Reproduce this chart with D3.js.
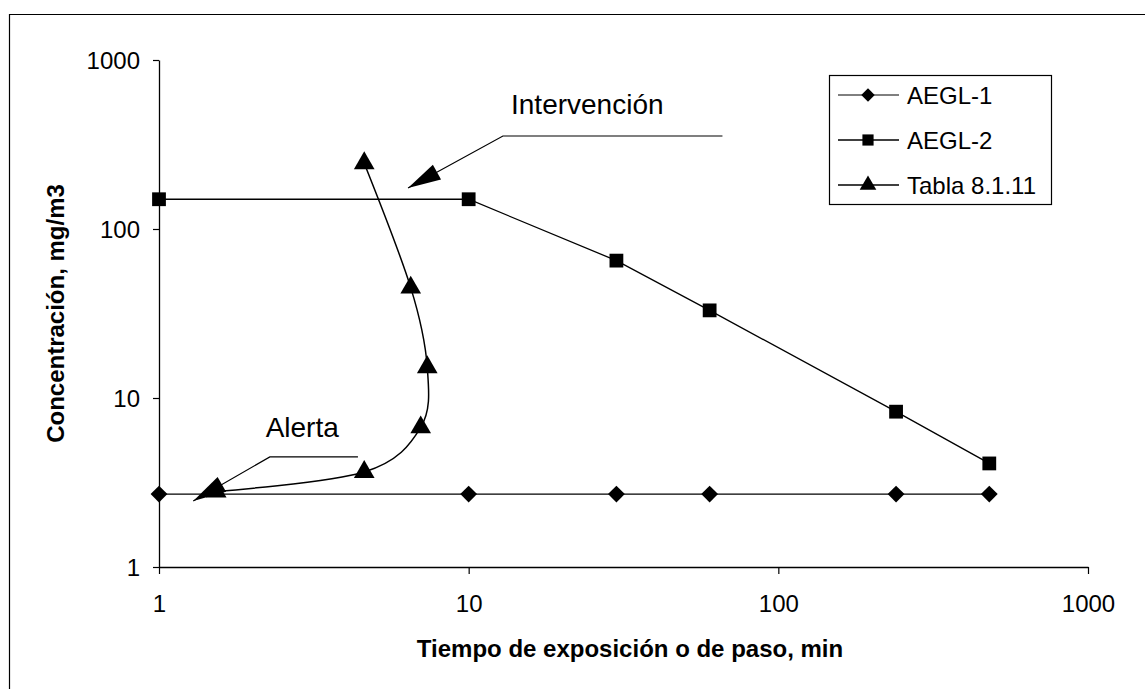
<!DOCTYPE html>
<html>
<head>
<meta charset="utf-8">
<script src="https://cdn.jsdelivr.net/npm/d3@7"></script>
<style>
  html, body { margin: 0; padding: 0; background: #fff; }
  svg { display: block; }
  text { font-family: "Liberation Sans", Arial, sans-serif; fill: #000; }
</style>
</head>
<body>
<svg id="chart" width="1145" height="689"></svg>
<script>
// ---------- data ----------
const aegl1Times = [1, 10, 30, 60, 240, 480];
const aegl1Values = [2.7, 2.7, 2.7, 2.7, 2.7, 2.7];

const aegl2Times = [1, 10, 30, 60, 240, 480];
const aegl2Values = [150, 150, 65, 33, 8.3, 4.1];

const tablaTimes = [1.53, 4.6, 7.0, 7.35, 6.5, 4.6];
const tablaValues = [2.8, 3.65, 6.7, 15.2, 45, 245];

const seriesNames = ["AEGL-1", "AEGL-2", "Tabla 8.1.11"];
const xTickValues = [1, 10, 100, 1000];
const yTickValues = [1, 10, 100, 1000];
const xTitle = "Tiempo de exposición o de paso, min";
const yTitle = "Concentración, mg/m3";

// annotation callouts (data units): label, label anchor, shelf end, elbow, arrow tip
const annLabels = ["Intervención", "Alerta"];
const annLabelAt = [[13.7, 480], [2.21, 5.9]];
const annShelfEnd = [[66, 355], [4.39, 4.48]];
const annElbow = [[12.9, 355], [2.28, 4.48]];
const annTip = [[6.37, 175], [1.29, 2.46]];

// ---------- layout ----------
const svg = d3.select("#chart");
const X0 = 159, X1 = 1088, Y0 = 567, Y1 = 60;
const x = d3.scaleLog().domain([1, 1000]).range([X0, X1]);
const y = d3.scaleLog().domain([1, 1000]).range([Y0, Y1]);

// outer frame (partially visible in reference)
svg.append("path")
  .attr("d", "M9.5,700 L9.5,14.5 L1150,14.5")
  .attr("fill", "none").attr("stroke", "#000").attr("stroke-width", 1.2);

// axes
const xAxis = d3.axisBottom(x).tickValues(xTickValues).tickFormat(d3.format("d")).tickSizeInner(7).tickSizeOuter(0).tickPadding(21);
const yAxis = d3.axisLeft(y).tickValues(yTickValues).tickFormat(d3.format("d")).tickSizeInner(6).tickSizeOuter(0).tickPadding(13);

const gx = svg.append("g").attr("transform", `translate(0,${Y0})`).call(xAxis);
const gy = svg.append("g").attr("transform", `translate(${X0},0)`).call(yAxis);
[gx, gy].forEach(g => {
  g.select(".domain").attr("stroke", "#000").attr("stroke-width", 1.3);
  g.selectAll(".tick line").attr("stroke", "#000").attr("stroke-width", 1.2);
  g.selectAll(".tick text").style("font-family", "'Liberation Sans', Arial, sans-serif").style("font-size", "24px").attr("fill", "#000");
});
gy.selectAll(".tick text").attr("dy", "0.36em");

// axis titles
svg.append("text")
  .attr("x", 630).attr("y", 657)
  .attr("text-anchor", "middle")
  .style("font-size", "24px").style("font-weight", "bold")
  .text(xTitle);
svg.append("text")
  .attr("transform", `translate(64,${(Y0 + Y1) / 2}) rotate(-90)`)
  .attr("text-anchor", "middle")
  .style("font-size", "24px").style("font-weight", "bold")
  .text(yTitle);

// ---------- series ----------
const d1 = aegl1Times.map((t, i) => [t, aegl1Values[i]]);
const d2 = aegl2Times.map((t, i) => [t, aegl2Values[i]]);
const d3s = tablaTimes.map((t, i) => [t, tablaValues[i]]);

const lineStraight = d3.line().x(d => x(d[0])).y(d => y(d[1]));
const lineSmooth = d3.line().x(d => x(d[0])).y(d => y(d[1])).curve(d3.curveCardinal.tension(0));

svg.append("path").attr("d", lineStraight(d1)).attr("fill", "none").attr("stroke", "#000").attr("stroke-width", 1.1);
svg.append("path").attr("d", lineStraight(d2)).attr("fill", "none").attr("stroke", "#000").attr("stroke-width", 1.3);
svg.append("path").attr("d", lineSmooth(d3s)).attr("fill", "none").attr("stroke", "#000").attr("stroke-width", 1.5);

const diamond = d3.symbol().type(d3.symbolDiamond2).size(180);
const square = d3.symbol().type(d3.symbolSquare).size(190);
const triangle = d3.symbol().type(d3.symbolTriangle).size(185);

svg.append("g").selectAll("path").data(d1).join("path")
  .attr("d", diamond).attr("transform", d => `translate(${x(d[0])},${y(d[1])})`).attr("fill", "#000");
svg.append("g").selectAll("path").data(d2).join("path")
  .attr("d", square).attr("transform", d => `translate(${x(d[0])},${y(d[1])})`).attr("fill", "#000");
svg.append("g").selectAll("path").data(d3s).join("path")
  .attr("d", triangle).attr("transform", d => `translate(${x(d[0])},${y(d[1])})`).attr("fill", "#000");

// ---------- annotations ----------
function arrowHead(tx, ty, fx, fy, len, halfW) {
  const dx = tx - fx, dy = ty - fy, L = Math.hypot(dx, dy);
  const ux = dx / L, uy = dy / L;
  const bx = tx - ux * len, by = ty - uy * len;
  return `M${tx},${ty} L${bx - uy * halfW},${by + ux * halfW} L${bx + uy * halfW},${by - ux * halfW} Z`;
}
annLabels.forEach((lab, i) => {
  const e = [x(annElbow[i][0]), y(annElbow[i][1])];
  const s = [x(annShelfEnd[i][0]), y(annShelfEnd[i][1])];
  const t = [x(annTip[i][0]), y(annTip[i][1])];
  svg.append("path").attr("d", `M${s[0]},${s[1]} L${e[0]},${e[1]} L${t[0]},${t[1]}`)
    .attr("fill", "none").attr("stroke", "#000").attr("stroke-width", 1.2);
  svg.append("path").attr("d", arrowHead(t[0], t[1], e[0], e[1], 33, 8.5)).attr("fill", "#000");
  svg.append("text").attr("x", x(annLabelAt[i][0])).attr("y", y(annLabelAt[i][1]))
    .style("font-size", "28px").text(lab);
});

// ---------- legend ----------
const lg = svg.append("g");
lg.append("rect").attr("x", 829.5).attr("y", 75.5).attr("width", 222).attr("height", 129)
  .attr("fill", "#fff").attr("stroke", "#000").attr("stroke-width", 1.2);
const legSymbols = [d3.symbol().type(d3.symbolDiamond2).size(115), d3.symbol().type(d3.symbolSquare).size(125), d3.symbol().type(d3.symbolTriangle).size(120)];
const legRowsY = [95, 140, 185];
seriesNames.forEach((name, i) => {
  const yy = legRowsY[i];
  lg.append("line").attr("x1", 838).attr("x2", 899).attr("y1", yy).attr("y2", yy)
    .attr("stroke", "#000").attr("stroke-width", i === 0 ? 1 : 1.3);
  lg.append("path").attr("d", legSymbols[i]).attr("transform", `translate(868,${yy})`).attr("fill", "#000");
  lg.append("text").attr("x", 907).attr("y", yy).attr("dy", "0.36em").style("font-size", "24px").text(name);
});
</script>
</body>
</html>
